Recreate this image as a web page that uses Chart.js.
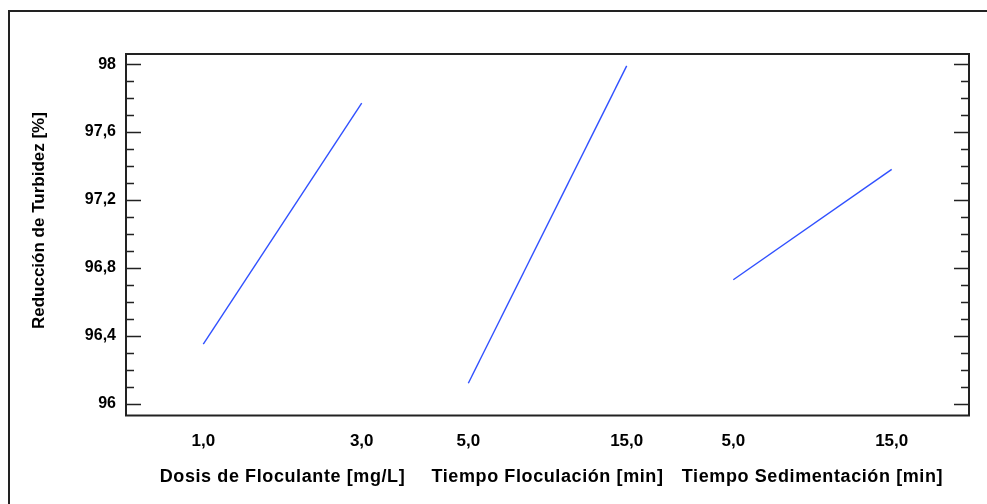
<!DOCTYPE html>
<html>
<head>
<meta charset="utf-8">
<script src="https://cdn.jsdelivr.net/npm/chart.js@4.4.0/dist/chart.umd.min.js"></script>
<style>
    html, body { margin: 0; padding: 0; background: #fff; overflow: hidden; }
    #wrap { width: 987px; height: 504px; position: relative; }
</style>
</head>
<body>
<div id="wrap"><canvas id="effectsChart"></canvas></div>
<script>
        // factor names, level labels and mean response at low / high level
        const factorTitles = ['Dosis de Floculante [mg/L]', 'Tiempo Floculación [min]', 'Tiempo Sedimentación [min]'];
        const levelLabels = ['1,0', '3,0', '5,0', '15,0', '5,0', '15,0'];
        const dosisValues = [96.35, 97.77];
        const floculacionValues = [96.12, 97.99];
        const sedimentacionValues = [96.73, 97.38];
        const yTicks = [96, 96.4, 96.8, 97.2, 97.6, 98];

        const segGap = 1.673;           // distance between the start of each factor segment
        const segStart = k => k * segGap;
        const xTickPos = [0, 1, 2, 3, 4, 5].map(i => segStart(Math.floor(i / 2)) + (i % 2));
        const font = 'Liberation Sans, Arial, sans-serif';

        function segmentData(k, values) {
            return values.map((v, i) => ({ x: segStart(k) + i, y: v }));
        }

        const boxPlugin = {
            id: 'boxPlugin',
            afterDraw(chart) {
                const ctx = chart.ctx;
                const a = chart.chartArea;
                const ys = chart.scales.y;
                const xs = chart.scales.x;
                ctx.save();
                // outer frame (only left and top visible)
                ctx.strokeStyle = '#222';
                ctx.lineWidth = 2;
                ctx.beginPath();
                ctx.moveTo(9, 504);
                ctx.lineTo(9, 11);
                ctx.lineTo(987, 11);
                ctx.stroke();
                // plot box
                ctx.strokeRect(a.left, a.top, a.right - a.left, a.bottom - a.top);
                // inward tick marks, minor every 0.1
                ctx.lineWidth = 1.5;
                ctx.beginPath();
                for (let i = 960; i <= 980; i++) {
                    const v = i / 10;
                    const py = Math.round(ys.getPixelForValue(v)) + 0.5;
                    const len = (i % 4 === 0) ? 15 : 8;
                    ctx.moveTo(a.left, py);
                    ctx.lineTo(a.left + len, py);
                    ctx.moveTo(a.right, py);
                    ctx.lineTo(a.right - len, py);
                }
                ctx.stroke();
                // factor titles under each segment
                ctx.fillStyle = '#000';
                ctx.font = 'bold 18px ' + font;
                ctx.letterSpacing = '0.6px';
                ctx.textAlign = 'center';
                ctx.textBaseline = 'middle';
                factorTitles.forEach((t, k) => {
                    const cx = xs.getPixelForValue(segStart(k) + 0.5);
                    ctx.fillText(t, cx, 477);
                });
                ctx.restore();
            }
        };

        const ctx = document.getElementById('effectsChart').getContext('2d');
        const effectsChart = new Chart(ctx, {
            type: 'line',
            data: {
                datasets: [
                    { data: segmentData(0, dosisValues) },
                    { data: segmentData(1, floculacionValues) },
                    { data: segmentData(2, sedimentacionValues) }
                ].map(d => Object.assign(d, {
                    borderColor: '#3050ff',
                    borderWidth: 1.4,
                    pointRadius: 0,
                    fill: false,
                    tension: 0
                }))
            },
            options: {
                responsive: true,
                maintainAspectRatio: false,
                animation: false,
                layout: { padding: { top: 54, right: 18, left: 0, bottom: 0 } },
                plugins: {
                    legend: { display: false },
                    tooltip: { enabled: false }
                },
                scales: {
                    x: {
                        type: 'linear',
                        min: -0.488,
                        max: 4.834,
                        afterBuildTicks: s => { s.ticks = xTickPos.map(v => ({ value: v })); },
                        afterFit: s => { s.height = 504 - 415.5; },
                        grid: { display: false, drawTicks: false },
                        border: { display: false },
                        ticks: {
                            autoSkip: false,
                            maxRotation: 0,
                            padding: 16,
                            color: '#000',
                            font: { family: font, size: 17, weight: 'bold' },
                            callback: (v, i) => levelLabels[i]
                        }
                    },
                    y: {
                        min: 95.93,
                        max: 98.06,
                        afterBuildTicks: s => { s.ticks = yTicks.map(v => ({ value: v })); },
                        afterFit: s => { s.width = 126; },
                        grid: { display: false, drawTicks: false },
                        border: { display: false },
                        title: {
                            display: true,
                            // leading spaces nudge the rotated title upward like the original
                            text: '      Reducción de Turbidez [%]',
                            color: '#000',
                            font: { family: font, size: 17, weight: 'bold' },
                            padding: { top: 29, bottom: 0 }
                        },
                        ticks: {
                            padding: 10,
                            color: '#000',
                            font: { family: font, size: 16, weight: 'bold' },
                            callback: v => String(v).replace('.', ',')
                        }
                    }
                }
            },
            plugins: [boxPlugin]
        });
</script>
</body>
</html>
